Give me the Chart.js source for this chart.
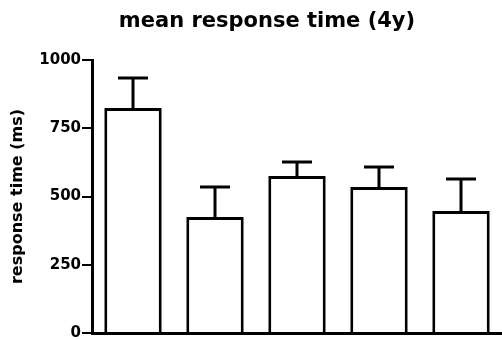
<!DOCTYPE html>
<html>
<head>
<meta charset="utf-8">
<script src="https://cdn.jsdelivr.net/npm/chart.js@4"></script>
<style>
html,body{margin:0;padding:0;background:#fff;}
#wrap{width:502px;height:340px;position:relative;}
</style>
</head>
<body>
<div id="wrap"><canvas id="c" width="502" height="340"></canvas></div>
<script>
const categories = ['1', '2', '3', '4', '5'];
const meanValues = [824, 425, 575, 535, 447];
const errorValues = [110, 110, 51, 73, 117];
const yTicks = [0, 250, 500, 750, 1000];
const chartTitle = 'mean response time (4y)';
const yTitle = 'response time (ms)';

const FONT = '"DejaVu Sans", sans-serif';

const errorBars = {
  id: 'errorBars',
  afterDatasetsDraw(chart) {
    const ctx = chart.ctx;
    const meta = chart.getDatasetMeta(0);
    const ys = chart.scales.y;
    ctx.save();
    ctx.strokeStyle = '#000';
    ctx.lineWidth = 3;
    meta.data.forEach((bar, i) => {
      const x = bar.x;
      const y0 = ys.getPixelForValue(meanValues[i]);
      const y1 = ys.getPixelForValue(meanValues[i] + errorValues[i]);
      ctx.beginPath();
      ctx.moveTo(x, y0);
      ctx.lineTo(x, y1);
      ctx.moveTo(x - 15, y1);
      ctx.lineTo(x + 15, y1);
      ctx.stroke();
    });
    ctx.restore();
  }
};

const titlePlugin = {
  id: 'customTitle',
  afterDraw(chart) {
    const ctx = chart.ctx;
    ctx.save();
    ctx.fillStyle = '#000';
    ctx.font = 'bold 21px ' + FONT;
    ctx.textAlign = 'center';
    ctx.textBaseline = 'middle';
    ctx.fillText(chartTitle, 267, 22);
    ctx.restore();
  }
};

new Chart(document.getElementById('c'), {
  type: 'bar',
  data: {
    labels: categories,
    datasets: [{
      data: meanValues,
      backgroundColor: '#fff',
      borderColor: '#000',
      borderWidth: 3,
      categoryPercentage: 0.7,
      barPercentage: 1.0
    }]
  },
  options: {
    responsive: false,
    animation: false,
    events: [],
    layout: { padding: { top: 60, right: 0, bottom: 0, left: 0 } },
    plugins: {
      legend: { display: false },
      tooltip: { enabled: false },
      title: { display: false }
    },
    scales: {
      x: {
        grid: { display: false },
        border: { display: true, color: '#000', width: 3 },
        ticks: { display: false },
        afterFit(scale) { scale.height = 7; }
      },
      y: {
        min: 0,
        max: 1000,
        afterBuildTicks(scale) { scale.ticks = yTicks.map(v => ({ value: v })); },
        afterFit(scale) { scale.width = 92; scale.paddingBottom = 0; scale.paddingTop = 0; },
        grid: { display: true, drawOnChartArea: false, drawTicks: true, tickLength: 10, color: '#000', lineWidth: 2 },
        border: { display: true, color: '#000', width: 3 },
        ticks: { color: '#000', font: { family: FONT, weight: 'bold', size: 15 }, padding: 1, callback: (v) => String(v) },
        title: { display: true, text: yTitle, color: '#000', font: { family: FONT, weight: 'bold', size: 16 }, padding: { top: 8, bottom: 0 } }
      }
    }
  },
  plugins: [errorBars, titlePlugin]
});
</script>
</body>
</html>
